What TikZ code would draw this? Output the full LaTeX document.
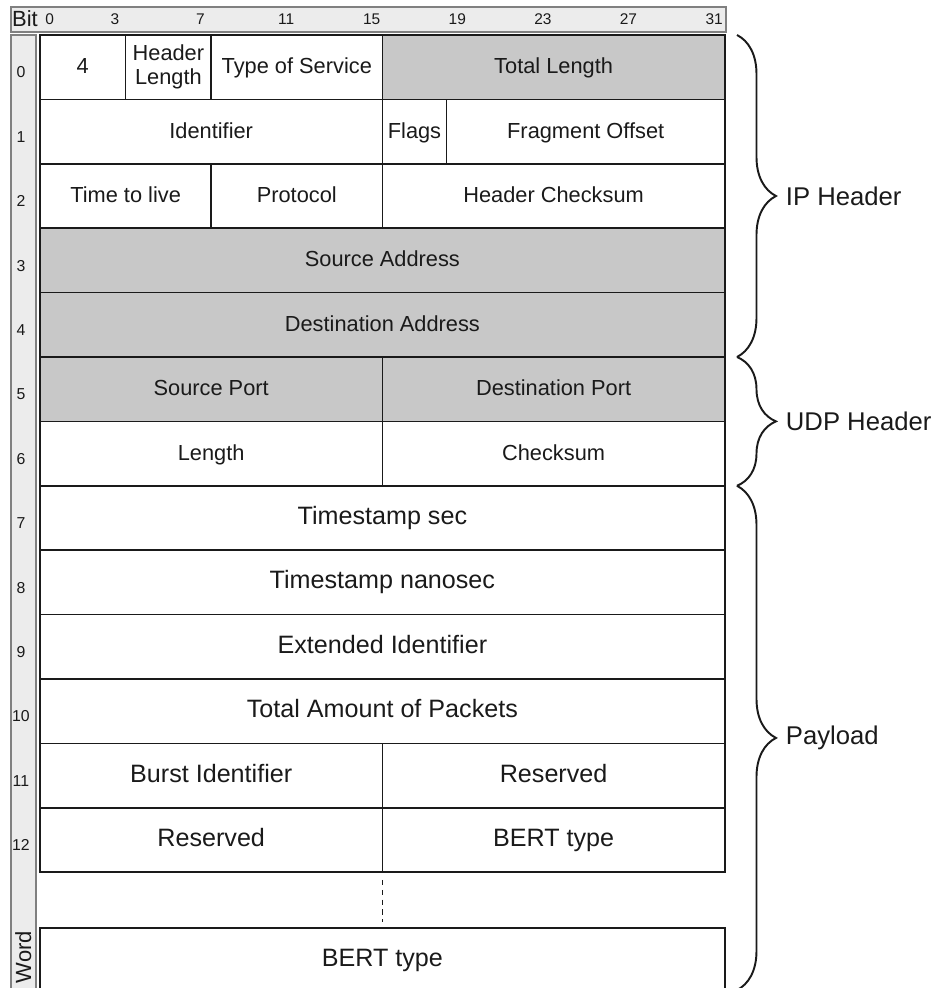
\documentclass[tikz,border=0pt]{standalone}
\usepackage{fontspec}
\setmainfont{Liberation Sans}
\usetikzlibrary{decorations.pathreplacing}
\definecolor{cellgrey}{HTML}{C8C8C8}
\definecolor{bargrey}{HTML}{ECECEC}
\definecolor{ink}{HTML}{1A1A1A}

\begin{document}
\begin{tikzpicture}[x=0.428cm,y=-1.288cm,
  field/.style={draw=ink, line width=0.9pt, minimum height=1.288cm, inner sep=0pt,
    align=center, text=ink, text height=1.7ex, text depth=0.3ex,
    font=\fontsize{12.4}{13.5}\selectfont},
  bits/.style={minimum width=#1*0.428cm},
  shaded/.style={fill=cellgrey},
  big/.style={font=\fontsize{14.3}{16}\selectfont},
  ruler/.style={draw=black!50, fill=bargrey, line width=0.8pt},
  bitnum/.style={text=ink, inner sep=0pt, font=\fontsize{8.8}{10}\selectfont},
  wordnum/.style={text=ink, inner sep=0pt, font=\fontsize{9}{10}\selectfont},
  brace/.style={decorate, decoration={brace, amplitude=0.78cm}, draw=ink, line width=1.1pt},
  bracelabel/.style={anchor=west, inner sep=0pt, xshift=0.96cm, text=ink,
    font=\fontsize{14.6}{16}\selectfont}]
\useasboundingbox (-1.869,-0.5435) rectangle (41.776,14.798);
\clip (-1.869,-0.5435) rectangle (41.776,14.798);

% rulers: bit positions on top, word numbers on the left
\draw[ruler] (-1.355,-0.435) rectangle (32.05,-0.047);
\draw[ruler] (-1.355,0) rectangle (-0.187,15.2);
\node[anchor=west, inner sep=0pt, text=ink, font=\fontsize{12.5}{14}\selectfont] (bitlbl) at (-1.32,-0.25) {Bit};
\node[bitnum] (b0) at (0.45,-0.24) {0};
\node[bitnum] (b3) at (3.5,-0.24) {3};
\node[bitnum] (b7) at (7.5,-0.24) {7};
\node[bitnum] (b11) at (11.5,-0.24) {11};
\node[bitnum] (b15) at (15.5,-0.24) {15};
\node[bitnum] (b19) at (19.5,-0.24) {19};
\node[bitnum] (b23) at (23.5,-0.24) {23};
\node[bitnum] (b27) at (27.5,-0.24) {27};
\node[bitnum] (b31) at (31.5,-0.24) {31};
\node[wordnum] (w0) at (-0.89,0.58) {0};
\node[wordnum] (w1) at (-0.89,1.58) {1};
\node[wordnum] (w2) at (-0.89,2.58) {2};
\node[wordnum] (w3) at (-0.89,3.58) {3};
\node[wordnum] (w4) at (-0.89,4.58) {4};
\node[wordnum] (w5) at (-0.89,5.58) {5};
\node[wordnum] (w6) at (-0.89,6.58) {6};
\node[wordnum] (w7) at (-0.89,7.58) {7};
\node[wordnum] (w8) at (-0.89,8.58) {8};
\node[wordnum] (w9) at (-0.89,9.58) {9};
\node[wordnum] (w10) at (-0.89,10.58) {10};
\node[wordnum] (w11) at (-0.89,11.58) {11};
\node[wordnum] (w12) at (-0.89,12.58) {12};
\node[rotate=90, inner sep=0pt, text=ink, font=\fontsize{12.5}{14}\selectfont] (wordlbl) at (-0.78,14.32) {Word};

% IP header
\node[field, bits=4] (version) at (2,0.5) {4};
\node[field, bits=4, text height=, text depth=] (ihl) at (6,0.5) {Header\\Length};
\node[field, bits=8] (tos) at (12,0.5) {Type of Service};
\node[field, bits=16, shaded] (totlen) at (24,0.5) {Total Length};
\node[field, bits=16] (ident) at (8,1.5) {Identifier};
\node[field, bits=3] (flags) at (17.5,1.5) {Flags};
\node[field, bits=13] (fragoff) at (25.5,1.5) {Fragment Offset};
\node[field, bits=8] (ttl) at (4,2.5) {Time to live};
\node[field, bits=8] (proto) at (12,2.5) {Protocol};
\node[field, bits=16] (hdrsum) at (24,2.5) {Header Checksum};
\node[field, bits=32, shaded] (srcaddr) at (16,3.5) {Source Address};
\node[field, bits=32, shaded] (dstaddr) at (16,4.5) {Destination Address};

% UDP header
\node[field, bits=16, shaded] (srcport) at (8,5.5) {Source Port};
\node[field, bits=16, shaded] (dstport) at (24,5.5) {Destination Port};
\node[field, bits=16] (udplen) at (8,6.5) {Length};
\node[field, bits=16] (udpsum) at (24,6.5) {Checksum};

% payload
\node[field, big, bits=32] (tssec) at (16,7.5) {Timestamp sec};
\node[field, big, bits=32] (tsnsec) at (16,8.5) {Timestamp nanosec};
\node[field, big, bits=32] (extid) at (16,9.5) {Extended Identifier};
\node[field, big, bits=32] (npkts) at (16,10.5) {Total Amount of Packets};
\node[field, big, bits=16] (burstid) at (8,11.5) {Burst Identifier};
\node[field, big, bits=16] (resvA) at (24,11.5) {Reserved};
\node[field, big, bits=16] (resvB) at (8,12.5) {Reserved};
\node[field, big, bits=16] (bertA) at (24,12.5) {BERT type};
\coordinate (gaptop) at (16,13.12);
\coordinate (gapbot) at (16,13.77);
\draw[ink, line width=0.8pt, dash pattern=on 3pt off 2.6pt] (gaptop) -- (gapbot);
\node[field, big, bits=32] (bertN) at (16,14.366) {BERT type};

% braces
\draw[brace] (32.57,0) -- (32.57,5) node[midway, bracelabel] (iplbl) {IP Header};
\draw[brace] (32.57,5) -- (32.57,7) node[midway, bracelabel] (udplbl) {UDP Header};
\draw[brace] (32.57,7) -- (32.57,14.83) node[midway, bracelabel] (paylbl) {Payload};
\end{tikzpicture}
\end{document}
